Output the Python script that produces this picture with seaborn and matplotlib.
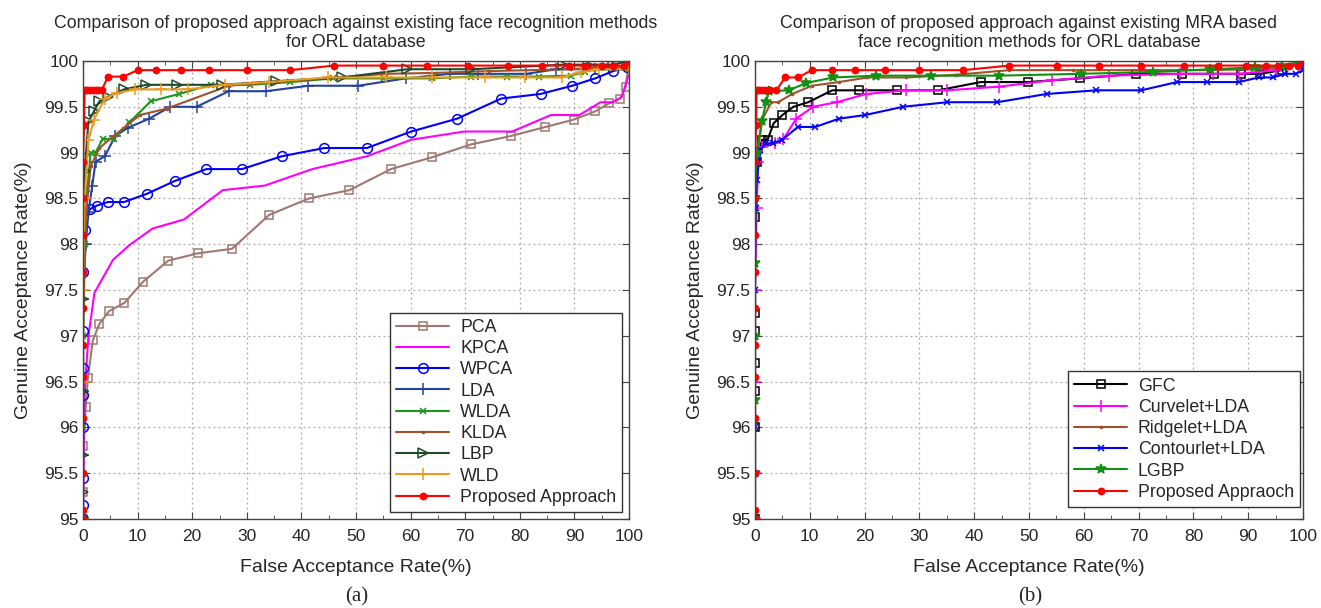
import numpy as np
import pandas as pd
import matplotlib
matplotlib.use("Agg")
import matplotlib.pyplot as plt
from matplotlib.ticker import MultipleLocator, FuncFormatter
import seaborn as sns

# ---------------- data: panel (a) ----------------
pca_x = [0, 0, 0, 0.5, 0.9, 1.8, 3.0, 4.8, 7.6, 11.0, 15.6, 21.0, 27.3, 34.1, 41.4, 48.8, 56.4, 64.0, 71.1, 78.3, 84.7, 89.9, 93.8, 96.4, 98.4, 99.4, 100]
pca_y = [95.0, 95.3, 95.8, 96.22, 96.54, 96.95, 97.13, 97.27, 97.36, 97.59, 97.82, 97.90, 97.95, 98.32, 98.50, 98.59, 98.82, 98.95, 99.09, 99.18, 99.28, 99.36, 99.45, 99.54, 99.59, 99.72, 100]

kpca_x = [0, 0.3, 1.0, 2.1, 5.5, 8.5, 12.7, 18.5, 25.6, 33.3, 42.0, 52.0, 60.1, 69.8, 78.6, 85.7, 90.9, 94.8, 97.1, 98.7, 100, 100]
kpca_y = [95.0, 96.4, 97.0, 97.47, 97.83, 97.99, 98.17, 98.27, 98.59, 98.64, 98.82, 98.96, 99.14, 99.23, 99.23, 99.41, 99.41, 99.55, 99.55, 99.61, 99.86, 100]

wpca_x = [0, 0, 0, 0, 0, 0, 0, 0, 0.3, 1.2, 2.5, 4.5, 7.5, 11.7, 16.8, 22.6, 29.1, 36.4, 44.2, 52.0, 60.1, 68.5, 76.6, 83.8, 89.6, 93.8, 97.1, 99.7, 100]
wpca_y = [95.0, 95.15, 95.45, 96.0, 96.35, 96.65, 97.05, 97.7, 98.15, 98.38, 98.42, 98.46, 98.46, 98.55, 98.69, 98.82, 98.82, 98.96, 99.05, 99.05, 99.23, 99.37, 99.59, 99.64, 99.73, 99.81, 99.89, 99.93, 100]

lda_x = [0, 0, 0, 0, 0.5, 1.0, 1.7, 2.3, 4.0, 5.9, 8.2, 12.1, 16.0, 20.8, 26.7, 33.5, 41.3, 50.4, 59.1, 67.2, 72.4, 81.2, 86.7, 93.8, 100, 100]
lda_y = [95.0, 95.7, 96.4, 97.4, 98.0, 98.35, 98.64, 98.9, 98.96, 99.18, 99.27, 99.37, 99.5, 99.5, 99.67, 99.67, 99.73, 99.73, 99.81, 99.86, 99.86, 99.86, 99.91, 99.91, 99.91, 100]

wlda_x = [0, 0, 0, 0.3, 0.8, 1.4, 2.3, 3.6, 5.6, 8.5, 12.4, 17.6, 23.4, 30.6, 38.0, 45.8, 55.2, 64.0, 71.1, 77.6, 83.5, 89.3, 91.9, 93.2, 100, 100]
wlda_y = [95.0, 96.0, 97.0, 98.0, 98.6, 99.0, 99.0, 99.15, 99.15, 99.33, 99.56, 99.64, 99.74, 99.74, 99.77, 99.81, 99.81, 99.81, 99.83, 99.83, 99.83, 99.84, 99.88, 99.91, 99.91, 100]

klda_x = [0, 0, 0.5, 1.4, 3.0, 5.6, 10.4, 15.3, 26.7, 44.5, 55.5, 64.6, 74.4, 89.3, 95.2, 100, 100]
klda_y = [95.0, 97.0, 98.3, 98.85, 99.05, 99.18, 99.41, 99.48, 99.73, 99.81, 99.86, 99.87, 99.89, 99.91, 99.93, 99.93, 100]

lbp_x = [0, 0, 0, 0, 0, 0.3, 1.0, 2.0, 3.0, 4.6, 7.5, 11.6, 17.3, 25.4, 35.4, 47.4, 59.4, 71.1, 88.0, 92.5, 97.0, 100]
lbp_y = [95.0, 95.3, 95.7, 96.4, 97.4, 98.8, 99.34, 99.45, 99.56, 99.61, 99.69, 99.74, 99.74, 99.74, 99.78, 99.82, 99.91, 99.91, 99.96, 99.96, 99.96, 100]

wld_x = [0, 0, 0, 0.3, 1.0, 2.0, 4.0, 6.2, 9.5, 14.3, 19.2, 26.0, 34.1, 44.8, 55.5, 64.0, 73.7, 80.9, 87.7, 91.2, 94.5, 100, 100]
wld_y = [95.0, 96.5, 97.5, 98.5, 99.14, 99.36, 99.59, 99.65, 99.69, 99.69, 99.69, 99.74, 99.77, 99.82, 99.82, 99.82, 99.82, 99.82, 99.82, 99.88, 99.91, 99.91, 100]

prop_a_x = [0, 0, 0, 0, 0, 0, 0, 0, 0, 0, 0, 0.2, 0.3, 0.8, 1.3, 1.8, 2.3, 2.8, 3.4, 4.6, 7.4, 10.0, 13.4, 17.9, 23.0, 30.0, 38.0, 46.0, 55.0, 63.0, 70.5, 77.8, 84.0, 89.0, 92.0, 95.0, 97.0, 99.0, 100]
prop_a_y = [95.0, 95.1, 95.5, 96.1, 96.55, 96.9, 97.3, 97.7, 98.1, 98.5, 98.9, 99.3, 99.68, 99.68, 99.68, 99.68, 99.68, 99.68, 99.68, 99.83, 99.83, 99.9, 99.9, 99.9, 99.9, 99.9, 99.9, 99.95, 99.95, 99.95, 99.95, 99.95, 99.95, 99.95, 99.95, 99.95, 99.95, 99.95, 100]

# ---------------- data: panel (b) ----------------
gfc_x = [0, 0, 0, 0, 0, 0, 0, 0.3, 1.3, 2.3, 3.4, 5.0, 7.0, 9.7, 14.1, 19.0, 26.0, 33.4, 41.2, 49.8, 59.3, 69.5, 77.9, 83.8, 88.6, 92.2, 96.1, 100]
gfc_y = [95.0, 96.0, 96.4, 96.7, 97.05, 97.25, 98.3, 98.9, 99.14, 99.14, 99.32, 99.41, 99.50, 99.55, 99.68, 99.68, 99.68, 99.68, 99.77, 99.77, 99.81, 99.86, 99.86, 99.86, 99.86, 99.86, 99.90, 100]

curv_x = [0, 0, 0, 0, 0.3, 0.6, 1.3, 3.7, 5.2, 7.5, 10.6, 14.9, 20.3, 27.6, 35.1, 44.5, 54.2, 64.6, 77.6, 83.6, 88.3, 95.1, 100]
curv_y = [95.0, 95.5, 96.5, 97.5, 98.4, 98.9, 99.06, 99.10, 99.15, 99.37, 99.50, 99.55, 99.64, 99.68, 99.68, 99.72, 99.79, 99.84, 99.86, 99.86, 99.86, 99.90, 100]

ridg_x = [0, 0, 0.5, 1.3, 3.0, 4.2, 6.8, 10.4, 15.3, 20.5, 27.6, 36.7, 46.4, 58.1, 71.1, 82.8, 90.6, 96.4, 100]
ridg_y = [95.0, 98.0, 99.0, 99.36, 99.55, 99.55, 99.64, 99.73, 99.77, 99.82, 99.82, 99.85, 99.90, 99.90, 99.90, 99.90, 99.91, 99.93, 100]

cont_x = [0, 0, 0, 0.1, 0.3, 1.0, 2.0, 3.2, 5.0, 7.8, 11.0, 15.3, 20.1, 27.0, 35.1, 44.2, 53.2, 62.3, 70.5, 77.0, 82.5, 88.3, 91.9, 94.5, 96.8, 98.7, 100, 100]
cont_y = [95.0, 96.0, 97.5, 98.4, 98.70, 99.03, 99.10, 99.10, 99.14, 99.28, 99.28, 99.37, 99.41, 99.50, 99.55, 99.55, 99.64, 99.68, 99.68, 99.77, 99.77, 99.77, 99.82, 99.82, 99.86, 99.86, 99.90, 100]

lgbp_x = [0, 0, 0, 0, 0, 0, 0.3, 1.3, 2.0, 2.6, 6.2, 9.3, 14.3, 22.1, 32.1, 44.5, 59.4, 72.7, 83.1, 91.2, 96.1, 100]
lgbp_y = [95.0, 95.5, 96.3, 97.0, 97.8, 98.5, 99.0, 99.35, 99.55, 99.67, 99.68, 99.76, 99.82, 99.84, 99.84, 99.84, 99.86, 99.88, 99.91, 99.93, 99.95, 100]

prop_b_x = [0, 0, 0, 0, 0, 0, 0, 0, 0, 0, 0, 0.2, 0.3, 0.8, 1.3, 1.8, 2.3, 2.8, 3.9, 5.5, 7.8, 10.4, 14.0, 18.2, 23.7, 29.9, 38.0, 46.4, 55.2, 62.7, 70.5, 78.2, 84.4, 89.6, 93.2, 95.5, 97.5, 99.0, 100]
prop_b_y = [95.0, 95.1, 95.5, 96.1, 96.55, 96.9, 97.3, 97.7, 98.1, 98.5, 98.9, 99.3, 99.68, 99.68, 99.68, 99.68, 99.68, 99.68, 99.68, 99.82, 99.82, 99.9, 99.9, 99.9, 99.9, 99.9, 99.9, 99.95, 99.95, 99.95, 99.95, 99.95, 99.95, 99.95, 99.95, 99.95, 99.95, 99.95, 100]

labels_a = ["PCA", "KPCA", "WPCA", "LDA", "WLDA", "KLDA", "LBP", "WLD", "Proposed Approach"]
labels_b = ["GFC", "Curvelet+LDA", "Ridgelet+LDA", "Contourlet+LDA", "LGBP", "Proposed Appraoch"]

title_a = "Comparison of proposed approach against existing face recognition methods\nfor ORL database"
title_b = "Comparison of proposed approach against existing MRA based\nface recognition methods for ORL database"
xlabel = "False Acceptance Rate(%)"
ylabel = "Genuine Acceptance Rate(%)"

# ---------------- styling ----------------
sns.set_style("ticks")
plt.rcParams["font.family"] = ["Liberation Sans", "DejaVu Sans"]

W, H = 1321, 608
fig = plt.figure(figsize=(W / 100, H / 100), dpi=100)

def box(l, t, r, b):
    return [l / W, 1 - b / H, (r - l) / W, (b - t) / H]

ax_a = fig.add_axes(box(83, 61, 629, 519))
ax_b = fig.add_axes(box(755, 61, 1303, 519))

styles_a = [
    dict(color="#a07872", marker="s", markerfacecolor="none", markersize=5.5),
    dict(color="#ff00ff", marker=None),
    dict(color="#0000ff", marker="o", markerfacecolor="none", markersize=7),
    dict(color="#23419e", marker="+", markersize=8),
    dict(color="#1c961c", marker="x", markersize=5),
    dict(color="#a0522d", marker=".", markersize=3),
    dict(color="#1f4a2a", marker=">", markerfacecolor="none", markersize=6.5),
    dict(color="#f0981e", marker="+", markersize=8),
    dict(color="#ff0000", marker="o", markersize=4.5),
]
series_a = [(pca_x, pca_y), (kpca_x, kpca_y), (wpca_x, wpca_y), (lda_x, lda_y),
            (wlda_x, wlda_y), (klda_x, klda_y), (lbp_x, lbp_y), (wld_x, wld_y),
            (prop_a_x, prop_a_y)]

styles_b = [
    dict(color="#000000", marker="s", markerfacecolor="none", markersize=6),
    dict(color="#ff00ff", marker="+", markersize=8),
    dict(color="#a0522d", marker=".", markersize=3),
    dict(color="#0000ff", marker="x", markersize=5),
    dict(color="#129012", marker="*", markersize=7),
    dict(color="#ff0000", marker="o", markersize=4.5),
]
series_b = [(gfc_x, gfc_y), (curv_x, curv_y), (ridg_x, ridg_y), (cont_x, cont_y),
            (lgbp_x, lgbp_y), (prop_b_x, prop_b_y)]


def draw(ax, series, styles, labels):
    for (xs, ys), st, lab in zip(series, styles, labels):
        df = pd.DataFrame({"x": xs, "y": ys})
        st = dict(st)
        col = st.pop("color")
        mk = st.pop("marker")
        kw = dict(markeredgecolor=col, markeredgewidth=1.1) if mk else {}
        if mk:
            kw["marker"] = mk
        kw.update(st)
        sns.lineplot(data=df, x="x", y="y", ax=ax, color=col, label=lab,
                     estimator=None, sort=False, linewidth=1.5, **kw)


def finish(ax, title, leg_anchor):
    ax.set_xlim(0, 100)
    ax.set_ylim(95, 100)
    ax.xaxis.set_major_locator(MultipleLocator(10))
    ax.xaxis.set_minor_locator(MultipleLocator(5))
    ax.yaxis.set_major_locator(MultipleLocator(0.5))
    ax.yaxis.set_major_formatter(FuncFormatter(lambda v, p: "%g" % v))
    ax.grid(True, which="major", linestyle=(0, (1.5, 2.5)), color="#a8a8a8", linewidth=0.9)
    ax.tick_params(which="both", direction="in", top=True, right=True, labelsize=12.5,
                   color="#444444")
    ax.tick_params(axis="x", which="major", pad=7)
    ax.tick_params(which="major", length=5)
    ax.tick_params(which="minor", length=3)
    for s in ax.spines.values():
        s.set_color("#444444")
        s.set_linewidth(1.0)
    ax.set_title(title, fontsize=12.8, pad=10, linespacing=1.2)
    ax.set_xlabel(xlabel, fontsize=14, labelpad=11)
    ax.set_ylabel(ylabel, fontsize=14, labelpad=9)
    leg = ax.legend(loc="lower right", bbox_to_anchor=leg_anchor, borderaxespad=0,
                    fontsize=12.8, fancybox=False, framealpha=1, edgecolor="#333333",
                    handlelength=3.0, labelspacing=0.24, borderpad=0.35,
                    handletextpad=0.6)
    leg.get_frame().set_linewidth(1.0)


draw(ax_a, series_a, styles_a, labels_a)
draw(ax_b, series_b, styles_b, labels_b)
finish(ax_a, title_a, (0.988, 0.015))
finish(ax_b, title_b, (0.995, 0.026))

fig.text(357 / W, 1 - 597 / H, "(a)", ha="center", va="center", fontsize=15,
         family=["Liberation Serif", "DejaVu Serif"])
fig.text(1030 / W, 1 - 597 / H, "(b)", ha="center", va="center", fontsize=15,
         family=["Liberation Serif", "DejaVu Serif"])

fig.savefig("out.png", dpi=100)
